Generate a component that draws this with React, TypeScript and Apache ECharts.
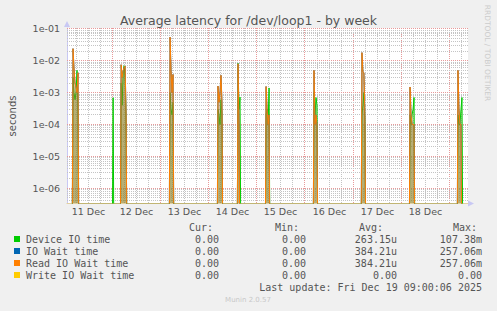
import React, { useEffect, useRef } from "react";
import * as echarts from "echarts";

const TITLE = "Average latency for /dev/loop1 - by week";
const Y_AXIS_NAME = "seconds";
const X_START = "2025-12-11T01:15:00";
const X_END = "2025-12-19T09:20:00";
const Y_MIN = 3.4e-7;
const Y_MAX = 0.107;
const STEP_MINUTES = 30;
const FLOOR = 1e-9; // stands in for 0 on the log scale (below the visible range)

// x grid: every 6 hours from this day on, midnights are major, noons carry the label
const GRID_DAYS = ["2025-12-11", "2025-12-12", "2025-12-13", "2025-12-14", "2025-12-15", "2025-12-16", "2025-12-17", "2025-12-18", "2025-12-19"];
const xTickLabels = ["11 Dec", "12 Dec", "13 Dec", "14 Dec", "15 Dec", "16 Dec", "17 Dec", "18 Dec", "19 Dec"];
const GRID_HOURS = [0, 6, 12, 18];
const yTickValues = [1e-6, 1e-5, 1e-4, 1e-3, 1e-2, 1e-1];
const yTickLabels = ["1e-06", "1e-05", "1e-04", "1e-03", "1e-02", "1e-01"];
const DECADES = [1e-7, 1e-6, 1e-5, 1e-4, 1e-3, 1e-2, 1e-1];
const MINOR_MULTIPLES = [2, 3, 4, 5, 6, 7, 8, 9];

// bursts of activity: start time, then one sample every 30 minutes
const clusterStarts = [
  "2025-12-11T03:45:00",
  "2025-12-11T23:45:00",
  "2025-12-12T03:45:00",
  "2025-12-13T04:10:00",
  "2025-12-14T04:05:00",
  "2025-12-14T14:05:00",
  "2025-12-15T04:05:00",
  "2025-12-16T04:00:00",
  "2025-12-17T03:55:00",
  "2025-12-18T03:55:00",
  "2025-12-19T03:50:00",
];
const deviceIoTime = [
  [0, 3e-3, 1e-3, 6e-4, 1e-3, 5e-3, 2e-4, 0],
  [0, 6.9e-4, 0],
  [0, 2e-3, 4e-4, 4e-3, 7e-3, 3e-3, 1e-4, 0],
  [0, 1e-3, 3e-4, 2e-4, 5e-4, 0],
  [0, 3e-4, 2e-4, 1e-4, 6e-4, 2e-4, 0],
  [0, 8.3e-3, 3e-4, 7.2e-4, 0],
  [0, 2e-4, 3e-4, 1e-4, 1.4e-3, 0],
  [0, 1e-3, 2e-4, 7e-4, 4e-4, 0],
  [0, 2e-4, 4e-4, 1e-3, 1e-4, 0],
  [0, 2e-4, 1e-4, 2e-4, 3e-4, 7e-4, 0],
  [0, 2e-4, 1e-4, 1e-4, 3e-4, 7e-4, 0],
];
const readIoWaitTime = [
  [0, 2.4e-2, 6e-3, 2e-3, 1.5e-3, 1e-3, 4.2e-3, 0],
  [0, 0, 0],
  [0, 7.5e-3, 3e-3, 5e-3, 6e-3, 6.8e-3, 2e-4, 0],
  [0, 5.5e-2, 5e-3, 1e-3, 3.7e-3, 0],
  [0, 1.6e-3, 5e-4, 1e-3, 3.5e-3, 5e-4, 0],
  [0, 8e-3, 1e-4, 0, 0],
  [0, 1.55e-3, 3e-4, 1e-4, 2e-4, 0],
  [0, 5e-3, 1e-4, 2e-4, 1e-4, 0],
  [0, 1.8e-2, 4.5e-3, 4.2e-3, 2e-4, 0],
  [0, 1.5e-3, 2e-4, 1e-4, 1e-4, 1e-4, 0],
  [0, 5e-3, 3e-4, 1e-4, 1e-4, 0, 0],
];
const ioWaitTime = readIoWaitTime; // identical to the read wait time
const writeIoWaitTime = [[0, 0]];
const writeClusterStarts = [X_START];

const legendNames = ["Device IO time", "IO Wait time", "Read IO Wait time", "Write IO Wait time"];
const legendColors = ["#00cc00", "#0066b3", "#ff8000", "#ffcc00"];
const curValues = ["0.00", "0.00", "0.00", "0.00"];
const minValues = ["0.00", "0.00", "0.00", "0.00"];
const avgValues = ["263.15u", "384.21u", "384.21u", "0.00"];
const maxValues = ["107.38m", "257.06m", "257.06m", "0.00"];
const LAST_UPDATE = "Last update: Fri Dec 19 09:00:06 2025";
const MUNIN = "Munin 2.0.57";
const RRD = "RRDTOOL / TOBI OETIKER";

const MAJOR_COLOR = "#e89a9a";
const MINOR_COLOR = "#c4c4c4";

const ts = (s: string) => new Date(s).getTime();

function buildData(starts: string[], values: number[][]) {
  const out: [number, number][] = [];
  starts.forEach((s, i) => {
    const t0 = ts(s);
    values[i].forEach((v, k) => {
      out.push([t0 + k * STEP_MINUTES * 60000, v > 0 ? v : FLOOR]);
    });
  });
  return out;
}

export default function App() {
  const ref = useRef<HTMLDivElement>(null);
  useEffect(() => {
    if (!ref.current) return;
    const chart = echarts.init(ref.current, undefined, { renderer: "svg" });

    const xMin = ts(X_START);
    const xMax = ts(X_END);

    // vertical grid lines: [time, isMajor, labelIndex]
    const vLines: [number, number, number][] = [];
    GRID_DAYS.forEach((d, i) => {
      GRID_HOURS.forEach((h) => {
        const t = ts(`${d}T${String(h).padStart(2, "0")}:00:00`);
        if (t <= xMin || t >= xMax) return;
        vLines.push([t, h === 0 ? 1 : 0, h === 12 ? i : -1]);
      });
    });
    // horizontal grid lines: [xMin, value, isMajor]
    const hLines: [number, number, number][] = [];
    DECADES.forEach((dec) => {
      if (dec > Y_MIN && dec < Y_MAX) hLines.push([xMin, dec, 1]);
      MINOR_MULTIPLES.forEach((m) => {
        const v = m * dec;
        if (v > Y_MIN && v < Y_MAX) hLines.push([xMin, v, 0]);
      });
    });

    const mono = "DejaVu Sans Mono";
    const textColor = "#555";
    const graphics: any[] = [];
    const rowY = [239, 251, 263, 275];
    const hdr = (text: string, x: number) =>
      graphics.push({ type: "text", x, y: 227.5, style: { text, font: `10px ${mono}`, fill: textColor, align: "right", verticalAlign: "middle" } });
    hdr("Cur:", 213);
    hdr("Min:", 299);
    hdr("Avg:", 383);
    hdr("Max:", 477);
    legendNames.forEach((name, i) => {
      const y = rowY[i];
      const cell = (text: string, x: number) =>
        graphics.push({ type: "text", x, y, style: { text, font: `10px ${mono}`, fill: textColor, align: "right", verticalAlign: "middle" } });
      graphics.push({ type: "rect", shape: { x: 14, y: y - 3, width: 6, height: 6 }, style: { fill: legendColors[i] } });
      graphics.push({ type: "text", x: 26, y, style: { text: name, font: `10px ${mono}`, fill: textColor, verticalAlign: "middle" } });
      cell(curValues[i], 219);
      cell(minValues[i], 306);
      cell(avgValues[i], 397);
      cell(maxValues[i], 482);
    });
    graphics.push({ type: "text", x: 482, y: 287.5, style: { text: LAST_UPDATE, font: `10px ${mono}`, fill: textColor, align: "right", verticalAlign: "middle" } });
    graphics.push({ type: "text", x: 248, y: 300, style: { text: MUNIN, font: "7px DejaVu Sans", fill: "#c8c8c8", align: "center", verticalAlign: "middle" } });
    graphics.push({ type: "text", x: 487, y: 53, rotation: -Math.PI / 2, style: { text: RRD, font: "7.5px DejaVu Sans", fill: "#cccccc", align: "center", verticalAlign: "middle" } });
    graphics.push({ type: "text", x: 12, y: 116, rotation: Math.PI / 2, style: { text: Y_AXIS_NAME, font: "10px DejaVu Sans", fill: textColor, align: "center", verticalAlign: "middle" } });
    graphics.push({ type: "polygon", shape: { points: [[468, 200.5], [474, 203.5], [468, 206.5]] }, style: { fill: "#c8c8f4" } });
    graphics.push({ type: "polygon", shape: { points: [[64, 27], [67, 21], [70, 27]] }, style: { fill: "#c8c8f4" } });

    const lineSeries = (name: string, color: string, data: [number, number][], area: string | null, z: number) => ({
      name,
      type: "line",
      data,
      z,
      showSymbol: false,
      symbol: "none",
      clip: true,
      lineStyle: { color, width: 1 },
      itemStyle: { color },
      areaStyle: area ? { color: area, origin: "start" } : undefined,
      silent: true,
    });

    chart.setOption({
      animation: false,
      backgroundColor: "#f0f0f0",
      title: {
        text: TITLE,
        left: "center",
        top: 9,
        textStyle: { color: "#555", fontSize: 12.5, fontWeight: "normal", fontFamily: "DejaVu Sans" },
      },
      grid: { left: 67, right: 29, top: 28, bottom: 108, show: true, backgroundColor: "#ffffff", borderWidth: 0 },
      xAxis: {
        type: "time",
        min: xMin,
        max: xMax,
        axisLine: { show: true, lineStyle: { color: "#e2d0a0", width: 1 } },
        axisTick: { show: false },
        axisLabel: { show: false },
        splitLine: { show: false },
      },
      yAxis: {
        type: "log",
        logBase: 10,
        min: Y_MIN,
        max: Y_MAX,
        axisLine: { show: true, lineStyle: { color: "#c8c8f4", width: 1 } },
        axisTick: { show: false },
        splitLine: { show: false },
        axisLabel: {
          showMinLabel: false,
          showMaxLabel: false,
          margin: 7,
          color: "#555",
          fontSize: 9.5,
          fontFamily: "DejaVu Sans",
          formatter: (v: number) => {
            const i = yTickValues.findIndex((t) => Math.abs(Math.log10(t) - Math.log10(v)) < 1e-6);
            return i >= 0 ? yTickLabels[i] : "";
          },
        },
      },
      series: [
        {
          type: "custom",
          z: 1,
          silent: true,
          data: vLines,
          encode: { x: 0 },
          renderItem: (params: any, api: any) => {
            const cs = params.coordSys;
            const x = Math.floor(api.coord([api.value(0), Y_MAX])[0]) + 0.5;
            const major = api.value(1) === 1;
            const li = api.value(2);
            const children: any[] = [
              {
                type: "line",
                shape: { x1: x, y1: cs.y, x2: x, y2: cs.y + cs.height },
                style: { stroke: major ? MAJOR_COLOR : MINOR_COLOR, lineWidth: 1, lineDash: [1, 1] },
              },
            ];
            if (li >= 0) {
              children.push({
                type: "text",
                x,
                y: cs.y + cs.height + 3,
                style: { text: xTickLabels[li], fill: "#555", font: "9.5px DejaVu Sans", align: "center", verticalAlign: "top" },
              });
            }
            return { type: "group", children };
          },
        },
        {
          type: "custom",
          z: 1,
          silent: true,
          data: hLines,
          encode: { x: 0, y: 1 },
          renderItem: (params: any, api: any) => {
            const cs = params.coordSys;
            const y = Math.floor(api.coord([api.value(0), api.value(1)])[1]) + 0.5;
            const major = api.value(2) === 1;
            return {
              type: "line",
              shape: { x1: cs.x, y1: y, x2: cs.x + cs.width, y2: y },
              style: { stroke: major ? MAJOR_COLOR : MINOR_COLOR, lineWidth: 1, lineDash: [1, 1] },
            };
          },
        },
        lineSeries(legendNames[0], legendColors[0], buildData(clusterStarts, deviceIoTime), "rgba(110,160,40,0.55)", 2),
        lineSeries(legendNames[1], legendColors[1], buildData(clusterStarts, ioWaitTime), null, 3),
        lineSeries(legendNames[2], legendColors[2], buildData(clusterStarts, readIoWaitTime), "rgba(160,115,40,0.6)", 4),
        lineSeries(legendNames[3], legendColors[3], buildData(writeClusterStarts, writeIoWaitTime), null, 5),
      ],
      graphic: graphics,
    });
    return () => chart.dispose();
  }, []);
  return <div ref={ref} style={{ width: 497, height: 311, position: "fixed", left: 0, top: 0 }} />;
}
